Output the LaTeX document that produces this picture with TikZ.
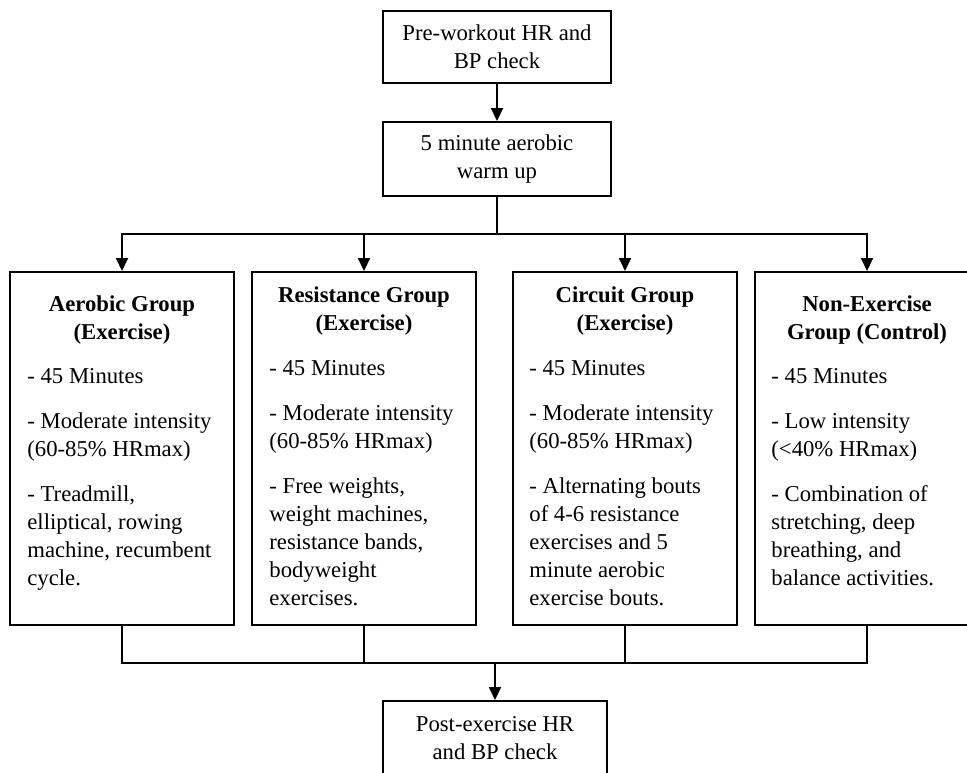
\documentclass[tikz,border=0pt]{standalone}
\usepackage{fontspec}
\setmainfont{Liberation Serif}
\usetikzlibrary{arrows.meta}
\begin{document}
\begin{tikzpicture}[x=0.5pt,y=-0.5pt,
  every node/.style={font=\fontsize{11.35pt}{14pt}\selectfont},
  box/.style={draw=black, line width=1pt, fill=white, inner sep=0pt},
  topbox/.style={box, minimum width=114pt, minimum height=36pt, align=center},
  grpbox/.style={box, minimum width=112pt, minimum height=176.5pt},
  ttl/.style={inner sep=0pt, anchor=north, align=center, font=\fontsize{11.35pt}{14pt}\selectfont\bfseries},
  bdy/.style={inner sep=0pt, anchor=north west, align=left},
  conn/.style={draw=black, line width=1pt},
  arr/.style={conn, -{Triangle[length=6.5pt,width=6pt]}}
]
\useasboundingbox (0,0) rectangle (967,772);
\clip (0,0) rectangle (967,772);
\fill[white] (0,0) rectangle (967,772);

% top boxes
\node[topbox] (pre) at (497,47) {Pre-workout HR and\\BP check};
\node[topbox, minimum height=37pt] (warm) at (497,159) {5 minute aerobic\\warm up};

% group boxes
\node[grpbox] (A) at (122,448.5) {};
\node[grpbox] (B) at (364,448.5) {};
\node[grpbox] (C) at (625,448.5) {};
\node[grpbox] (D) at (867,448.5) {};

% titles
\node[ttl] (At) at (122,291.4) {\strut Aerobic Group\\(Exercise)};
\node[ttl] (Bt) at (364,282.4) {\strut Resistance Group\\(Exercise)};
\node[ttl] (Ct) at (625,282.4) {\strut Circuit Group\\(Exercise)};
\node[ttl] (Dt) at (867,291.4) {\strut Non-Exercise\\Group (Control)};

% bodies
\node[bdy] (Ab) at (27,363.4) {\strut - 45 Minutes\\[8.5pt]
- Moderate intensity\\(60-85\% HRmax)\\[8.5pt]
- Treadmill,\\elliptical, rowing\\machine, recumbent\\cycle.};
\node[bdy] (Bb) at (269,355.4) {\strut - 45 Minutes\\[8.5pt]
- Moderate intensity\\(60-85\% HRmax)\\[8.5pt]
- Free weights,\\weight machines,\\resistance bands,\\bodyweight\\exercises.};
\node[bdy] (Cb) at (529,355.4) {\strut - 45 Minutes\\[8.5pt]
- Moderate intensity\\(60-85\% HRmax)\\[8.5pt]
- Alternating bouts\\of 4-6 resistance\\exercises and 5\\minute aerobic\\exercise bouts.};
\node[bdy] (Db) at (771,363.4) {\strut - 45 Minutes\\[8.5pt]
- Low intensity\\(<40\% HRmax)\\[8.5pt]
- Combination of\\stretching, deep\\breathing, and\\balance activities.};

% bottom box
\node[topbox, minimum width=112pt, minimum height=37pt] (post) at (495,738) {Post-exercise HR\\and BP check};

% connectors
\coordinate (j1) at (497,234);
\coordinate (j2) at (495,663);
\draw[arr] (pre) -- (warm);
\draw[conn] (warm.south) -- (j1);
\draw[conn, line cap=rect] (A.north |- j1) -- (D.north |- j1);
\foreach \n in {A,B,C,D}{\draw[arr] (\n.north |- j1) -- (\n.north);}
\foreach \n in {A,B,C,D}{\draw[conn] (\n.south) -- (\n.south |- j2);}
\draw[conn, line cap=rect] (A.south |- j2) -- (D.south |- j2);
\draw[arr] (j2) -- (post.north);
\end{tikzpicture}
\end{document}
